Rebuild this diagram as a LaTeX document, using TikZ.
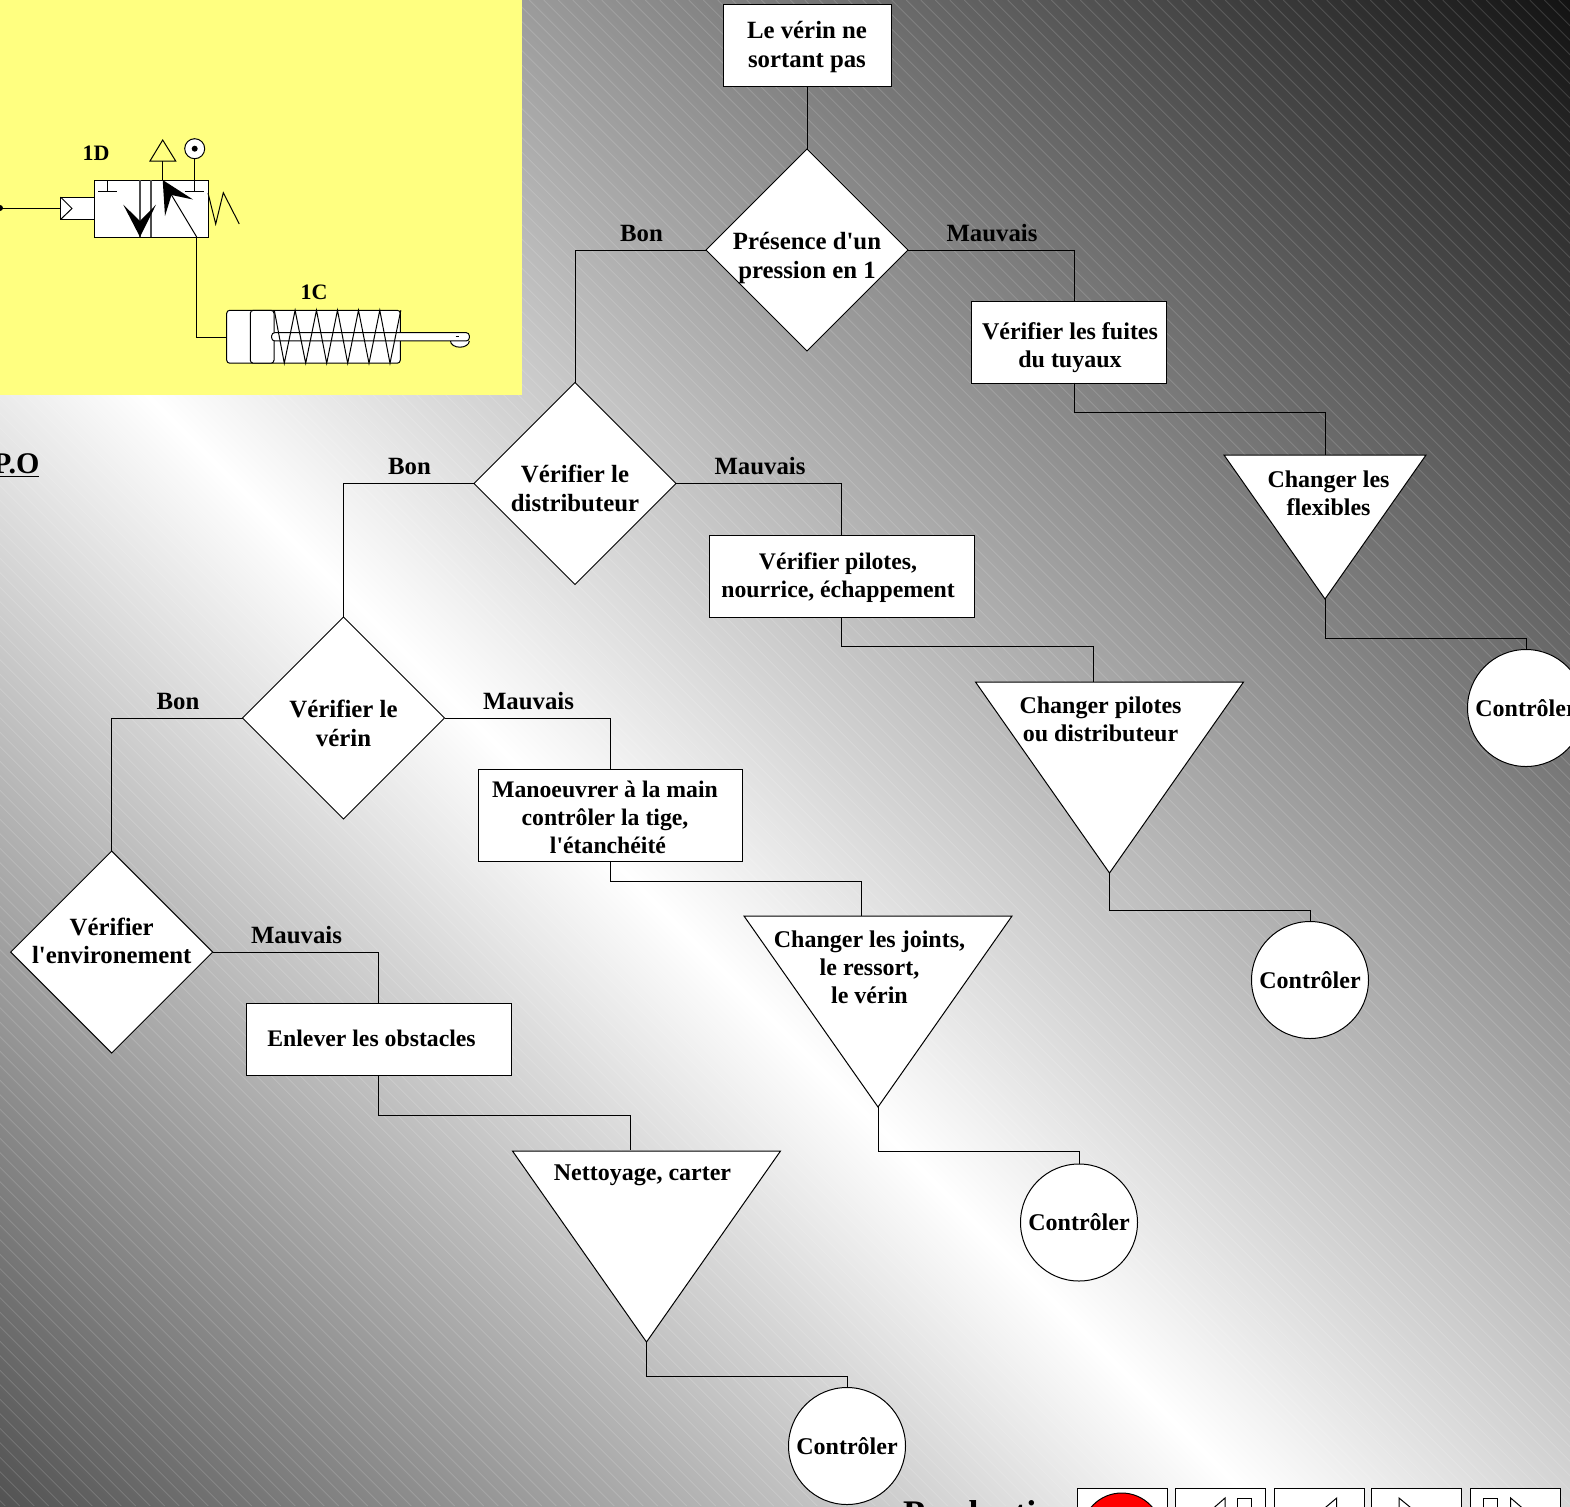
\documentclass[tikz,border=0pt]{standalone}
\usepackage{fontspec}
\newfontfamily\serifdroit{Liberation Serif}
\usetikzlibrary{shapes.geometric}

\pgfdeclarehorizontalshading{bgfade}{100bp}{color(0bp)=(black!69);color(14.6bp)=(black!69);color(43.65bp)=(white);color(85.4bp)=(black!94);color(100bp)=(black!94)}
\definecolor{panelyellow}{HTML}{FFFF80}

\tikzset{
  txt/.style={font=\serifdroit\fontsize{12}{14}\selectfont\bfseries, align=center, inner sep=0pt},
  txtfin/.style={txt, font=\serifdroit\fontsize{11.87}{14}\selectfont\bfseries},
  txtlarge/.style={txt, font=\serifdroit\fontsize{12.4}{14.25}\selectfont\bfseries},
  boite/.style={draw, fill=white, rectangle, inner sep=0pt, outer sep=0pt},
  losange/.style={draw, fill=white, diamond, aspect=1, inner sep=0pt, outer sep=0pt, minimum width=101pt, minimum height=101pt},
  entonnoir/.style={draw, fill=white, isosceles triangle, isosceles triangle stretches, shape border rotate=-90, anchor=apex, inner sep=0pt, outer sep=0pt},
  rond/.style={draw, fill=white, circle, txt, minimum size=58.5pt},
  bouton/.style={draw, fill=white, rectangle, inner sep=0pt, outer sep=0pt, minimum width=45pt, minimum height=30pt, anchor=north west},
}

\begin{document}
\begin{tikzpicture}[x=0.5pt, y=-0.5pt, line width=0.5pt]
  \useasboundingbox (0, 0) rectangle (1570, 1506);

  % fond
  \shade[shading=bgfade, shading angle=45] (0, -32) rectangle (1570, 1538);
  \foreach \k in {-110,...,110} {
    \draw[white, opacity=0.15, line width=0.4pt] (7.25+14.5*\k, 0) -- (1513.25+14.5*\k, 1506);
  }
  \fill[panelyellow] (0, 0) rectangle (522, 395);

  % distributeur 1D
  \draw (0, 208) -- (60.5, 208);
  \fill (0, 208) circle (1.5pt);
  \draw[fill=white] (60.5, 197) rectangle (94.5, 219.5);
  \draw (60.5, 197) -- (72, 208.5) -- (60.5, 219.5);
  \draw[fill=white] (94.5, 180) rectangle (208, 237);
  \draw[line width=0.8pt, black!70] (139.7, 180) -- (139.7, 237);
  \draw[line width=0.8pt, black!70] (151, 180) -- (151, 237);
  \draw (107.7, 180) -- (107.7, 191) (98, 191) -- (117.3, 191);
  \draw (184.7, 191) -- (203.7, 191);
  \draw (194.5, 158.7) -- (194.5, 191);
  \draw[fill=white] (194.7, 148.7) circle (5pt);
  \fill (194.7, 148.7) circle (1.5pt);
  \draw (162.7, 161) -- (162.7, 180);
  \draw (162.7, 140) -- (175.7, 161) -- (150, 161) -- cycle;
  \fill (162.7, 180) -- (193, 199.5) -- (171.5, 195) -- (165, 216) -- cycle;
  \draw (171.5, 195) -- (196.7, 237);
  \fill (140, 237) -- (123.3, 204.7) -- (140, 221) -- (156, 204.7) -- cycle;
  \draw (208, 193) -- (215.7, 224) -- (223.3, 192.7) -- (239.3, 224);
  \draw (196.7, 237) -- (196.7, 337.5) -- (226.7, 337.5);

  % verin 1C
  \draw[fill=white, rounded corners=1.5pt] (226.7, 310.3) rectangle (400.3, 363.2);
  \draw[fill=white, rounded corners=1.5pt] (250.3, 310.3) rectangle (274, 363.2);
  \draw[fill=white] (450.5, 341) arc[start angle=180, end angle=0, x radius=9.4, y radius=6.2];
  \draw[fill=white, rounded corners=1.5pt] (271.7, 332.7) rectangle (469.3, 340.9);
  \draw (455.5, 336.5) -- (458.5, 336.5);
  \draw (274.3, 310.3)
    \foreach \a in {284.3, 305.7, 326.7, 347.7, 369, 390} { -- (\a, 363.2) -- (\a+10.8, 310.3) };

  \node[txt, font=\fontsize{11}{13}\selectfont\bfseries\serifdroit] (lab1d) at (96, 153) {1D};
  \node[txt, font=\fontsize{11}{13}\selectfont\bfseries\serifdroit] (lab1c) at (314, 292) {1C};
  \node[txt, font=\fontsize{15}{17}\selectfont\bfseries\serifdroit, anchor=base east] (labpo) at (40, 473) {\underline{P.O}};

  % blocs de l'arbre
  \node[boite, minimum width=84pt, minimum height=41pt] (b1) at (807, 45) {};
  \node[txtlarge] (b1t) at (807, 47) {Le vérin ne\\sortant pas};
  \node[losange] (d1) at (807, 250) {};
  \node[txtlarge] (d1t) at (807, 258) {Présence d'un\\pression en 1};
  \node[losange] (d2) at (575, 483.5) {};
  \node[txtlarge] (d2t) at (575, 488.5) {Vérifier le\\distributeur};
  \node[losange] (d3) at (343.5, 718) {};
  \node[txtlarge] (d3t) at (343.5, 723.5) {Vérifier le\\vérin};
  \node[losange] (d4) at (111.7, 952) {};
  \node[txtlarge] (d4t) at (111.7, 941) {Vérifier\\l'environement};

  \node[boite, minimum width=97.5pt, minimum height=41pt] (b2) at (1068.5, 342.2) {};
  \node[txt] (b2t) at (1070, 347.5) {Vérifier les fuites\\du tuyaux};
  \node[boite, minimum width=132.5pt, minimum height=41pt] (b3) at (841.5, 576) {};
  \node[txtfin] (b3t) at (838, 577.5) {Vérifier pilotes,\\nourrice, échappement};
  \node[boite, minimum width=132pt, minimum height=46pt] (b4) at (610.2, 815) {};
  \node[txtfin] (b4t) at (605, 817) {Manoeuvrer à la main\\contrôler la tige,\\\hspace*{3pt}l'étanchéité};
  \node[boite, minimum width=132.5pt, minimum height=36pt] (b5) at (378.5, 1039) {};
  \node[txtfin] (b5t) at (371.5, 1038) {Enlever les obstacles};

  \node[entonnoir, minimum width=101pt, minimum height=72pt] (t1) at (1325, 599) {};
  \node[txt] (t1t) at (1328.5, 493.5) {Changer les\\flexibles};
  \node[entonnoir, minimum width=134pt, minimum height=95.5pt] (t2) at (1109.5, 873) {};
  \node[txt] (t2t) at (1100.5, 719.5) {Changer pilotes\\ou distributeur};
  \node[entonnoir, minimum width=134pt, minimum height=95.5pt] (t3) at (878, 1107) {};
  \node[txt] (t3t) at (869.5, 967) {Changer les joints,\\le ressort,\\le vérin};
  \node[entonnoir, minimum width=134pt, minimum height=95.5pt] (t4) at (646.5, 1342) {};
  \node[txt] (t4t) at (642.5, 1175) {Nettoyage, carter};

  \node[rond] (c1) at (1526, 708) {Contrôler};
  \node[rond] (c2) at (1310, 980) {Contrôler};
  \node[rond] (c3) at (1079, 1222.5) {Contrôler};
  \node[rond] (c4) at (847, 1446) {Contrôler};

  % points de passage hors axe
  \coordinate (b2in) at (1074, 301.7);
  \coordinate (b2out) at (1074, 382.7);
  \coordinate (t2in) at (1093, 682);
  \coordinate (t3in) at (861, 916);
  \coordinate (t4in) at (630, 1150);

  % liaisons
  \draw (b1.south) -- (d1.north);
  \draw (d1.west) -| (d2.north);
  \draw (d1.east) -| (b2in);
  \draw (b2out) -- ++(0, 30) -| (t1.lower side);
  \draw (t1.apex) -- ++(0, 39) -| (c1.north);
  \draw (d2.west) -| (d3.north);
  \draw (d2.east) -| (b3.north);
  \draw (b3.south) -- ++(0, 29) -| (t2in);
  \draw (t2.apex) -- ++(0, 37) -| (c2.north);
  \draw (d3.west) -| (d4.north);
  \draw (d3.east) -| (b4.north);
  \draw (b4.south) -- ++(0, 20) -| (t3in);
  \draw (t3.apex) -- ++(0, 44) -| (c3.north);
  \draw (d4.east) -| (b5.north);
  \draw (b5.south) -- ++(0, 40) -| (t4in);
  \draw (t4.apex) -- ++(0, 34) -| (c4.north);

  \node[txtlarge] (bon1) at (641.5, 233.5) {Bon};
  \node[txtlarge] (mau1) at (992, 233.5) {Mauvais};
  \node[txtlarge] (bon2) at (409.5, 466.5) {Bon};
  \node[txtlarge] (mau2) at (760, 466.5) {Mauvais};
  \node[txtlarge] (bon3) at (178, 701.5) {Bon};
  \node[txtlarge] (mau3) at (528.5, 701) {Mauvais};
  \node[txtlarge] (mau4) at (296.5, 935) {Mauvais};

  % bas de page
  \node[txt, font=\fontsize{18}{20}\selectfont\bfseries\serifdroit, anchor=base west] (prod) at (902.5, 1525) {Production};
  \node[bouton] (nav1) at (1077.3, 1488.3) {};
  \node[bouton] (nav2) at (1175.7, 1488.3) {};
  \node[bouton] (nav3) at (1274, 1488.3) {};
  \node[bouton] (nav4) at (1371.7, 1488.3) {};
  \node[bouton] (nav5) at (1470, 1488.3) {};
  \begin{scope}
    \clip (0, 0) rectangle (1570, 1506);
    \draw[fill=red] (1121.7, 1533) circle (20pt);
    \draw (1225, 1512) -- (1225, 1498) -- (1209, 1512);
    \draw (1237.7, 1512) -- (1237.7, 1498.3) -- (1251.7, 1498.3) -- (1251.7, 1512);
    \draw (1336.7, 1512) -- (1336.7, 1498) -- (1320, 1512);
    \draw (1399, 1512) -- (1399, 1498) -- (1416, 1512);
    \draw (1483.3, 1512) -- (1483.3, 1498.3) -- (1497.7, 1498.3) -- (1497.7, 1512);
    \draw (1510.7, 1512) -- (1510.7, 1498) -- (1527, 1512);
  \end{scope}
\end{tikzpicture}
\end{document}
